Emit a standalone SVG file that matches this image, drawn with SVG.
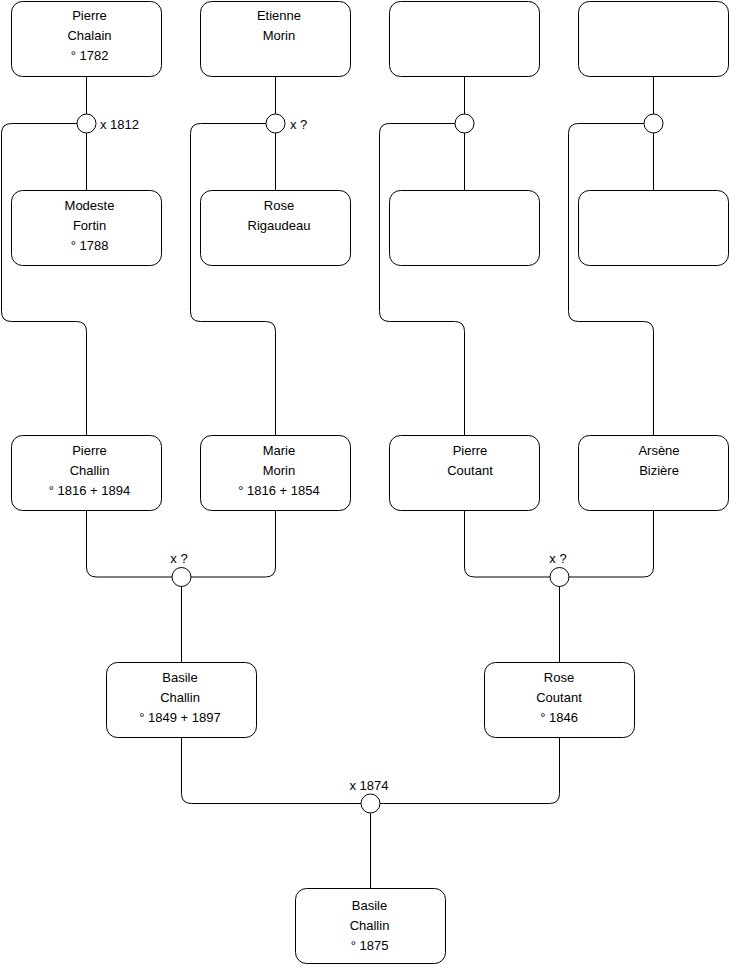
<svg xmlns="http://www.w3.org/2000/svg" width="740" height="975" viewBox="0 0 740 975">
<style>
.box{fill:#fff;stroke:#000;stroke-width:1}
.ring{fill:#fff;stroke:#000;stroke-width:1}
.wire{fill:none;stroke:#000;stroke-width:1}
text{font-family:"Liberation Sans",Arial,sans-serif;font-size:13px;fill:#000}
.c{text-anchor:middle}
</style>
<rect width="740" height="975" fill="#fff"/>
<g id="connectors">
<path class="wire" d="M86.5,76.5 V190.5 M86.5,123.5 H11.5 Q1.5,123.5 1.5,133.5 V311.5 Q1.5,321.5 11.5,321.5 H76.5 Q86.5,321.5 86.5,331.5 V435.5"/>
<path class="wire" d="M275.5,76.5 V190.5 M275.5,123.5 H200.5 Q190.5,123.5 190.5,133.5 V311.5 Q190.5,321.5 200.5,321.5 H265.5 Q275.5,321.5 275.5,331.5 V435.5"/>
<path class="wire" d="M464.5,76.5 V190.5 M464.5,123.5 H389.5 Q379.5,123.5 379.5,133.5 V311.5 Q379.5,321.5 389.5,321.5 H454.5 Q464.5,321.5 464.5,331.5 V435.5"/>
<path class="wire" d="M653.5,76.5 V190.5 M653.5,123.5 H578.5 Q568.5,123.5 568.5,133.5 V311.5 Q568.5,321.5 578.5,321.5 H643.5 Q653.5,321.5 653.5,331.5 V435.5"/>
<path class="wire" d="M86.5,510.5 V567 Q86.5,577 96.5,577 H265.5 Q275.5,577 275.5,567 V510.5 M181.5,577 V662.5"/>
<path class="wire" d="M464.5,510.5 V567 Q464.5,577 474.5,577 H643.5 Q653.5,577 653.5,567 V510.5 M559.5,577 V662.5"/>
<path class="wire" d="M181.5,737.5 V793.5 Q181.5,803.5 191.5,803.5 H549.5 Q559.5,803.5 559.5,793.5 V737.5 M370.5,803.5 V888.5"/>
</g>
<g id="u1"><circle class="ring" cx="86.5" cy="123.5" r="9.5"/><text x="100" y="128.5">x 1812</text></g>
<g id="u2"><circle class="ring" cx="275.5" cy="123.5" r="9.5"/><text x="290" y="128.5">x ?</text></g>
<g id="u3"><circle class="ring" cx="464.5" cy="123.5" r="9.5"/></g>
<g id="u4"><circle class="ring" cx="653.5" cy="123.5" r="9.5"/></g>
<g id="u5"><circle class="ring" cx="181.5" cy="577" r="9.5"/><text class="c" x="179" y="563">x ?</text></g>
<g id="u6"><circle class="ring" cx="559.5" cy="577" r="9.5"/><text class="c" x="558" y="563">x ?</text></g>
<g id="u7"><circle class="ring" cx="370.5" cy="803.5" r="9.5"/><text class="c" x="369" y="790">x 1874</text></g>
<g id="p1"><rect class="box" x="11.5" y="1.5" width="150" height="75" rx="11"/><text class="c" x="89.5" y="20">Pierre</text><text class="c" x="89.5" y="40">Chalain</text><text class="c" x="89.5" y="60">° 1782</text></g>
<g id="p2"><rect class="box" x="200.5" y="1.5" width="150" height="75" rx="11"/><text class="c" x="279" y="20">Etienne</text><text class="c" x="279" y="40">Morin</text></g>
<g id="p3"><rect class="box" x="389.5" y="1.5" width="150" height="75" rx="11"/></g>
<g id="p4"><rect class="box" x="578.5" y="1.5" width="150" height="75" rx="11"/></g>
<g id="p5"><rect class="box" x="11.5" y="190.5" width="150" height="75" rx="11"/><text class="c" x="89.5" y="210">Modeste</text><text class="c" x="89.5" y="230">Fortin</text><text class="c" x="89.5" y="250">° 1788</text></g>
<g id="p6"><rect class="box" x="200.5" y="190.5" width="150" height="75" rx="11"/><text class="c" x="279" y="210">Rose</text><text class="c" x="279" y="230">Rigaudeau</text></g>
<g id="p7"><rect class="box" x="389.5" y="190.5" width="150" height="75" rx="11"/></g>
<g id="p8"><rect class="box" x="578.5" y="190.5" width="150" height="75" rx="11"/></g>
<g id="p9"><rect class="box" x="11.5" y="435.5" width="150" height="75" rx="11"/><text class="c" x="89.5" y="455">Pierre</text><text class="c" x="89.5" y="475">Challin</text><text class="c" x="89.5" y="495">° 1816 + 1894</text></g>
<g id="p10"><rect class="box" x="200.5" y="435.5" width="150" height="75" rx="11"/><text class="c" x="279" y="455">Marie</text><text class="c" x="279" y="475">Morin</text><text class="c" x="279" y="495">° 1816 + 1854</text></g>
<g id="p11"><rect class="box" x="389.5" y="435.5" width="150" height="75" rx="11"/><text class="c" x="470" y="455">Pierre</text><text class="c" x="470" y="475">Coutant</text></g>
<g id="p12"><rect class="box" x="578.5" y="435.5" width="150" height="75" rx="11"/><text class="c" x="659" y="455">Arsène</text><text class="c" x="659" y="475">Bizière</text></g>
<g id="p13"><rect class="box" x="106.5" y="662.5" width="150" height="75" rx="11"/><text class="c" x="180" y="682">Basile</text><text class="c" x="180" y="702">Challin</text><text class="c" x="180" y="722">° 1849 + 1897</text></g>
<g id="p14"><rect class="box" x="484.5" y="662.5" width="150" height="75" rx="11"/><text class="c" x="559" y="682">Rose</text><text class="c" x="559" y="702">Coutant</text><text class="c" x="559" y="722">° 1846</text></g>
<g id="p15"><rect class="box" x="295.5" y="888.5" width="150" height="75" rx="11"/><text class="c" x="369.5" y="910">Basile</text><text class="c" x="369.5" y="930">Challin</text><text class="c" x="369.5" y="950">° 1875</text></g>
</svg>
